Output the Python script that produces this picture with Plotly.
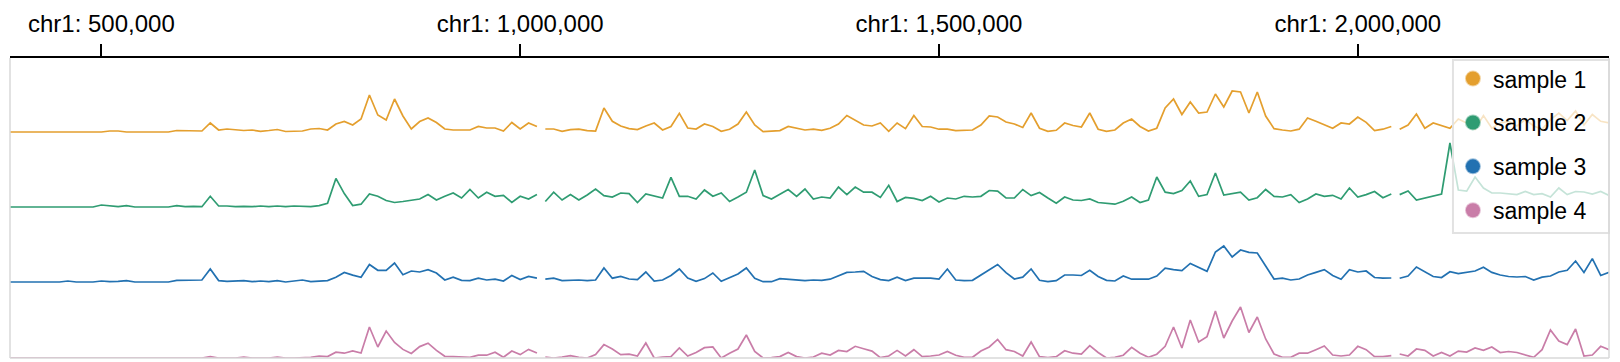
import plotly.graph_objects as go

# genomic bin positions (bp) and tile boundaries where the signal is not connected
positions = list(range(390000, 2300001, 10000))
tile_breaks = [1024000, 2048000]

sample_names = ["sample 1", "sample 2", "sample 3", "sample 4"]
colors = ["#E49F2E", "#2F9C72", "#2271B1", "#C97DA8"]

sample1 = ([0] * 12 + [1, 1] + [0] * 6 +
           [1.5, 1.5, 1, 1, 9, 2, 3, 2.5, 1.5, 2, 0.7, 1.5, 2.5, 0.5, 1, 1, 3, 3.5, 2, 8,
            10.5, 7, 13, 37, 17, 12, 33, 16, 3, 10.5, 14, 9.5, 3, 2, 2, 2, 5.5, 4, 4, 1,
            9.5, 3, 9, 5.5] +
           [3, 3, 0.7, 2.4, 2.8, 1.4, 1, 24, 10.7, 6, 3.4, 2.4, 6, 9, 2, 5.5, 18.6, 4, 3, 8,
            5.5, 0.7, 2.8, 8, 20, 7, 0.3, 0.7, 1.4, 5.5, 3.8, 2, 2.8, 1.7, 3.8, 8, 16.5, 12, 7, 6,
            9, 0.7, 9, 3.4, 16.5, 5.5, 5, 2.8, 2.8, 1.4, 2, 2, 7, 16, 15, 10, 8, 4.5, 19, 3.8,
            0.7, 1.7, 9, 6.5] +
           [5, 19, 2.8, 0.7, 2, 9, 13, 5.5, 1, 3.8, 24, 33, 17.5, 30, 19, 20, 38, 25, 41, 40,
            19, 40, 16, 3.4, 2, 1, 2.8, 14, 10.7, 7, 3.8, 9, 8, 15, 9.6, 1.4, 2.8, 5.5, 2.8, 7,
            18, 3.8, 9, 6.5, 3.8, 13, 9, 2.8, 16.5, 3.8, 9, 10.7, 6, 12.4, 6, 2.8, 12.4, 19, 11.4, 21,
            7, 17.5, 10.7, 9])

sample2 = ([0] * 11 + [2, 1.5, 0.3, 1.4] + [0] * 5 +
           [1.4, 0.3, 0.7, 0.3, 10.7, 1, 1, 0.3, 0.7, 0.3, 1, 0.3, 1, 0.3, 1, 0.3, 0.3, 1.4, 3.8, 28.6,
            13.4, 1.4, 2.8, 13, 10.7, 6.5, 4.5, 5.5, 7, 8, 12.4, 7, 10.7, 14, 9, 17.5, 9, 14.8, 10.7, 11.7,
            4.5, 10.7, 8, 12.4] +
           [5.5, 14.8, 7, 12.4, 7, 12, 18, 11.4, 10, 14, 13.4, 4.5, 13, 10.7, 9, 29.6, 10.7, 10.7, 8, 17,
            10.7, 14, 5.5, 10, 14.8, 37, 11.4, 8, 13, 17.5, 10.7, 18, 8, 10, 9, 20, 12.4, 20, 14.8, 14.8,
            9.6, 21.7, 5.5, 9.6, 8.6, 6.5, 10.7, 5, 9, 8, 10.7, 10, 10.7, 16.5, 15.8, 9, 9, 17.5, 11.4, 14.5,
            9, 3.8, 10, 7] +
           [6.5, 8, 4.5, 3.8, 2.8, 5.8, 10, 4.5, 7, 30, 14.8, 13.4, 16.5, 26, 10.7, 12.4, 34, 12, 13.4, 14.8,
            7, 9.3, 17.5, 10.7, 10, 12.4, 4.5, 8, 13, 10.7, 11.7, 8, 19, 10, 12.4, 15.5, 9.3, 13, 12.4, 16,
            7, 9, 11.4, 13, 64, 17, 15.8, 30, 19, 14, 14, 13, 12.4, 15.5, 12.4, 13.4, 10, 19, 12.4, 15.5,
            15, 13, 15.5, 11.4])

sample3 = ([0] * 7 + [1] + [0] * 3 + [1, 0.3, 0.7, 1.4] + [0] * 5 +
           [1.7, 1.7, 1.4, 2, 13, 1.4, 0.7, 1, 1.4, 0.3, 1, 0.3, 1.4, 0, 1, 2, 0.3, 1, 1.4, 4.8,
            9.6, 6.9, 4.8, 17.5, 11.7, 11.7, 19, 7.2, 11, 10, 12.4, 9, 2, 4.8, 1.7, 1.4, 3.8, 2, 2.8, 1,
            6.5, 2.4, 5.5, 3.8] +
           [2.8, 3.8, 1.4, 2, 2, 1.4, 2, 14, 3.8, 5.5, 3, 2.4, 10, 1, 2, 6.5, 13, 4, 0.7, 3.4,
            9, 0.7, 4, 8, 14, 3.8, 0.3, 0.3, 3.4, 2.8, 1.7, 1.4, 2, 1.7, 2.8, 6.5, 9.6, 10, 10.7, 5.5,
            2.4, 1.4, 4.8, 1.4, 3.8, 3.8, 3.8, 3, 13, 2, 1.4, 1.7, 7, 13, 17.5, 9.3, 3, 4.8, 13, 1.7,
            0.3, 1.4, 7, 7] +
           [6.5, 11.7, 5.5, 1.7, 1, 6, 2.8, 2.8, 2.8, 6, 13.8, 12.4, 11.4, 18.6, 15, 10.7, 30, 36, 25, 32,
            29.6, 29, 16, 3, 3.8, 2, 3, 7, 9.6, 12.4, 6.5, 2.8, 12.4, 10, 11, 4.5, 3.8, 4, 3.8, 6,
            15, 10, 5.5, 4.5, 10.3, 8.3, 9.6, 11, 14.8, 9.6, 7, 5.5, 5, 5.5, 2, 4.8, 6, 10, 11.7, 21,
            9.6, 23.4, 6.5, 9.6])

sample4 = ([0] * 24 + [1.4] + [0] * 3 + [1] + [0] * 3 + [1] + [0] * 3 +
           [0.7, 2, 1.4, 5.8, 4.8, 7, 5, 31, 11, 27, 15.5, 8.6, 4.5, 11.4, 14.8, 7.6, 1.7, 1.4, 0.7, 0.7,
            2.8, 2.8, 5.8, 0.7, 7, 3.4, 8.6, 5] +
           [1, 0, 1, 2.4, 0.7, 0, 3.4, 13.4, 9, 3.4, 3.8, 2, 15, 0, 1, 1.4, 10, 2, 5.5, 10.3,
            11, 0, 4.8, 9, 23, 6.5, 0, 0.3, 1.4, 5.5, 1.4, 0, 1, 4.8, 3, 7.6, 6.5, 11.7, 9.3, 6.9,
            0.3, 2, 7.6, 2, 8.3, 1.4, 2, 3, 6.5, 2.8, 0.7, 0.7, 6.9, 11, 18.6, 8.3, 6.5, 2, 16, 1.4,
            0.3, 1.4, 7.2, 4.8] +
           [4, 12.4, 5.5, 0, 0.7, 2.8, 10.7, 4.8, 0.7, 3.8, 11.7, 31, 10, 38, 16, 21.4, 47, 20, 37, 51,
            25.5, 41, 19, 4, 0.7, 0.7, 4.8, 4.8, 8.3, 12, 3, 2, 3, 11.7, 8.3, 1.4, 1.4, 2.4, 4, 2,
            9, 7.6, 2, 5.5, 2, 6.9, 5.9, 10, 7.6, 11, 5.5, 6.5, 5.5, 3.4, 0.7, 8.3, 28, 17, 13.4, 29,
            2, 3, 11.7, 8.3])

series = [sample1, sample2, sample3, sample4]

tick_positions = [500000, 1000000, 1500000, 2000000]
tick_labels = [f"chr1: {p:,}" for p in tick_positions]

x_range = [390900, 2299900]
track_ranges = [[-1, 74], [-1, 74], [-1, 74], [0, 75]]

FONT = "Liberation Sans, Arial, Helvetica, sans-serif"


def with_breaks(xs, ys, breaks):
    ox, oy = [], []
    for j, (xv, yv) in enumerate(zip(xs, ys)):
        ox.append(xv)
        oy.append(yv)
        if j + 1 < len(xs):
            for b in breaks:
                if xv < b < xs[j + 1]:
                    ox.append(b)
                    oy.append(None)
    return ox, oy


def rgba(hexc, a):
    h = hexc.lstrip("#")
    r, g, b = int(h[0:2], 16), int(h[2:4], 16), int(h[4:6], 16)
    return f"rgba({r},{g},{b},{a})"


fig = go.Figure()
n = len(series)
for k, (name, col, vals) in enumerate(zip(sample_names, colors, series)):
    yref = "y" if k == 0 else f"y{k + 1}"
    xs, ys = with_breaks(positions, vals, tile_breaks)
    fig.add_trace(go.Scatter(
        x=xs, y=ys, mode="lines", name=name, legendgroup=name, showlegend=False,
        connectgaps=False, line=dict(color=col, width=1.7), hoverinfo="skip",
        xaxis="x", yaxis=yref))

for k, (name, col) in enumerate(zip(sample_names, colors)):
    fig.add_trace(go.Scatter(
        x=[None], y=[None], mode="markers", name=name, legendgroup=name, showlegend=True,
        marker=dict(size=14, color=col, line=dict(color=rgba(col, 0.45), width=2)),
        xaxis="x", yaxis="y"))

# the page adds an 8px body margin, so the figure is sized/margined to compensate
layout = dict(
    width=1612, height=354,
    margin=dict(l=2, r=11, t=50, b=4, autoexpand=False),
    paper_bgcolor="white", plot_bgcolor="white",
    font=dict(family=FONT, size=24, color="black"),
    showlegend=True,
    legend=dict(
        x=0.9024, xanchor="left", y=1.003, yanchor="top",
        bgcolor="rgba(0,0,0,0)", borderwidth=0,
        font=dict(family=FONT, size=23, color="black"),
        traceorder="grouped", tracegroupgap=11, itemsizing="trace",
    ),
    xaxis=dict(
        range=x_range, side="top", anchor="y",
        tickmode="array", tickvals=tick_positions, ticktext=tick_labels,
        ticks="outside", ticklen=12, tickwidth=1.5, tickcolor="black",
        ticklabelstandoff=3,
        showline=True, linecolor="black", linewidth=1.5,
        showgrid=False, zeroline=False, fixedrange=True,
        tickfont=dict(family=FONT, size=24, color="black"),
        automargin=False,
    ),
)
for k in range(n):
    key = "yaxis" if k == 0 else f"yaxis{k + 1}"
    layout[key] = dict(
        domain=[1 - (k + 1) / n, 1 - k / n], range=track_ranges[k],
        visible=False, anchor="x", fixedrange=True, showgrid=False, zeroline=False)

fig.update_layout(**layout)

# legend panel (semi-transparent, fades the lines behind it)
fig.add_shape(type="rect", xref="paper", yref="paper", x0=0.9024, x1=1.0, y0=0.4167, y1=0.9933,
              fillcolor="rgba(255,255,255,0.72)", line=dict(color="#e2e2e2", width=2), layer="above")

border = "#d9d9d9"
for (x0, y0, x1, y1) in [(0, 0, 0, 1), (1, 0, 1, 1), (0, 0, 1, 0)]:
    fig.add_shape(type="line", xref="paper", yref="paper", x0=x0, y0=y0, x1=x1, y1=y1,
                  line=dict(color=border, width=1.5), layer="above")

fig.write_html("out.html")
